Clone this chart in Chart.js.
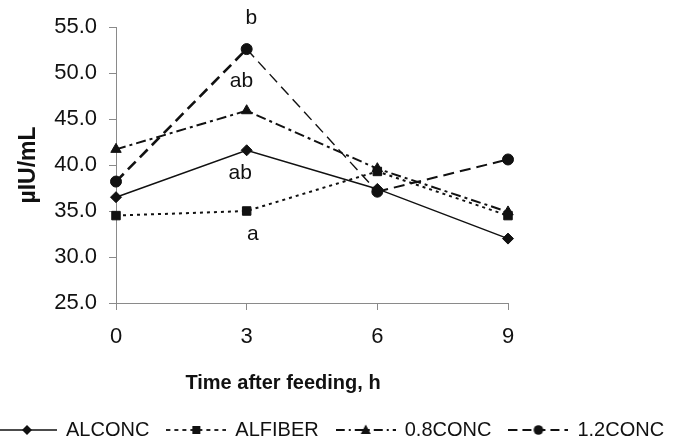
<!DOCTYPE html>
<html><head><meta charset="utf-8">
<script src="https://cdn.jsdelivr.net/npm/chart.js@4.4.1/dist/chart.umd.min.js"></script>
<style>html,body{margin:0;padding:0;background:#fff}canvas{display:block}</style>
</head><body>
<canvas id="c" width="682" height="443"></canvas>
<script>
// ---- data ----
const hours = ['0', '3', '6', '9'];
const alconc = [36.5, 41.6, 37.4, 32.0];
const alfiber = [34.5, 35.0, 39.3, 34.5];
const conc08 = [41.7, 45.9, 39.6, 34.9];
const conc12 = [38.2, 52.6, 37.1, 40.6];
const seriesNames = ['ALCONC', 'ALFIBER', '0.8CONC', '1.2CONC'];
const yTicks = [25, 30, 35, 40, 45, 50, 55];
const sigLetters = ['b', 'ab', 'ab', 'a'];
const sigHour = [3.11, 2.88, 2.85, 3.14];
const sigValue = [55.3, 48.5, 38.5, 31.9];
const yTitle = 'µIU/mL';
const xTitle = 'Time after feeding, h';

const FONT = "'Liberation Sans', Arial, sans-serif";
const INK = '#111';
const AXIS = '#8a8a8a';

function drawMarker(ctx, kind, x, y) {
  ctx.fillStyle = INK;
  ctx.beginPath();
  if (kind === 'diamond') { ctx.moveTo(x, y - 5); ctx.lineTo(x + 5, y); ctx.lineTo(x, y + 5); ctx.lineTo(x - 5, y); }
  else if (kind === 'square') { ctx.rect(x - 4, y - 4, 8, 8); }
  else if (kind === 'triangle') { ctx.moveTo(x, y - 5.5); ctx.lineTo(x + 5, y + 4); ctx.lineTo(x - 5, y + 4); }
  else { ctx.arc(x, y, 4.8, 0, Math.PI * 2); }
  ctx.closePath();
  ctx.fill();
}
function makeIcon(dash, width, kind) {
  const c = document.createElement('canvas');
  c.width = 60; c.height = 14;
  const ctx = c.getContext('2d');
  ctx.strokeStyle = INK; ctx.lineWidth = width;
  ctx.setLineDash(dash);
  ctx.beginPath(); ctx.moveTo(0, 7); ctx.lineTo(60, 7); ctx.stroke();
  ctx.setLineDash([]);
  drawMarker(ctx, kind, 30, 7);
  return c;
}
const icons = [
  makeIcon([], 1.5, 'diamond'),
  makeIcon([4, 4], 1.8, 'square'),
  makeIcon([9, 4, 2, 4], 1.8, 'triangle'),
  makeIcon([9, 5], 2, 'circle')
];

const overlay = {
  id: 'overlay',
  afterInit(chart) {
    const lg = chart.legend;
    if (lg && !lg._patched) {
      const f = lg.fit.bind(lg);
      lg.fit = function () {
        const mw = this.maxWidth;
        this.maxWidth = mw + 120;
        f();
        this.maxWidth = mw;
        this.width = mw;
        this.height -= 7;
      };
      lg._patched = true;
    }
  },
  afterLayout(chart) {
    const lg = chart.legend;
    if (lg) { lg.left -= 20; lg.right += 40; }
  },
  afterDraw(chart) {
    const ctx = chart.ctx, xs = chart.scales.x, ys = chart.scales.y, ca = chart.chartArea;
    ctx.save();
    ctx.fillStyle = INK;
    ctx.font = '21px ' + FONT;
    ctx.textAlign = 'center';
    ctx.textBaseline = 'alphabetic';
    sigLetters.forEach((t, i) => {
      ctx.fillText(t, xs.getPixelForValue(sigHour[i] / 3), ys.getPixelForValue(sigValue[i]));
    });
    ctx.font = 'bold 20px ' + FONT;
    ctx.textBaseline = 'middle';
    ctx.fillText(xTitle, (ca.left + ca.right) / 2 - 29, 383);
    ctx.restore();
  }
};

const common = { borderColor: INK, backgroundColor: INK, pointBackgroundColor: INK, pointBorderColor: INK, pointBorderWidth: 1, tension: 0, fill: false };

new Chart(document.getElementById('c'), {
  type: 'line',
  data: {
    labels: hours,
    datasets: [
      Object.assign({ label: seriesNames[0], data: alconc, borderWidth: 1.5, pointStyle: 'rectRot', pointRadius: 5.5 }, common),
      Object.assign({ label: seriesNames[1], data: alfiber, borderWidth: 2, borderDash: [3, 4], pointStyle: 'rect', pointRadius: 6 }, common),
      Object.assign({ label: seriesNames[2], data: conc08, borderWidth: 2, borderDash: [10, 4, 3, 4], pointStyle: 'triangle', pointRadius: 6 }, common),
      Object.assign({ label: seriesNames[3], data: conc12, borderWidth: 2.5, borderDash: [11, 6], pointStyle: 'circle', pointRadius: 5.5,
        segment: { borderWidth: c => [2.6, 1.4, 2][c.p0DataIndex] } }, common)
    ]
  },
  options: {
    responsive: false,
    animation: false,
    layout: { padding: { top: 27, left: 0, right: 0, bottom: 0 } },
    plugins: {
      tooltip: { enabled: false },
      legend: {
        position: 'bottom',
        align: 'start',
        labels: {
          usePointStyle: true,
          pointStyleWidth: 58,
          padding: 18,
          color: INK,
          font: { family: FONT, size: 20 },
          generateLabels(chart) {
            const items = Chart.defaults.plugins.legend.labels.generateLabels(chart);
            items.forEach((it, i) => { it.pointStyle = icons[i]; it.lineWidth = 0; });
            return items;
          }
        }
      }
    },
    scales: {
      x: {
        type: 'category',
        offset: false,
        afterFit(s) { s.height = 99; },
        grid: { display: true, drawOnChartArea: false, drawTicks: true, tickLength: 7, color: AXIS },
        border: { display: true, color: AXIS, width: 1 },
        ticks: { color: INK, padding: 14, font: { family: FONT, size: 22 }, maxRotation: 0 }
      },
      y: {
        type: 'linear',
        min: 25, max: 55,
        afterFit(s) { s.width = 116; },
        afterBuildTicks(s) { s.ticks = yTicks.map(v => ({ value: v })); },
        grid: { display: true, drawOnChartArea: false, drawTicks: true, tickLength: 7, color: AXIS },
        border: { display: true, color: AXIS, width: 1 },
        ticks: { color: INK, padding: 12, font: { family: FONT, size: 22 }, callback: v => Number(v).toFixed(1) },
        title: { display: true, text: yTitle, color: INK, font: { family: FONT, size: 23, weight: 'bold' }, padding: { top: 15, bottom: 0 } }
      },
      y2: {
        type: 'linear',
        position: 'right',
        afterFit(s) { s.width = 174; },
        grid: { display: false },
        border: { display: false },
        ticks: { display: false }
      }
    }
  },
  plugins: [overlay]
});
</script>
</body></html>
